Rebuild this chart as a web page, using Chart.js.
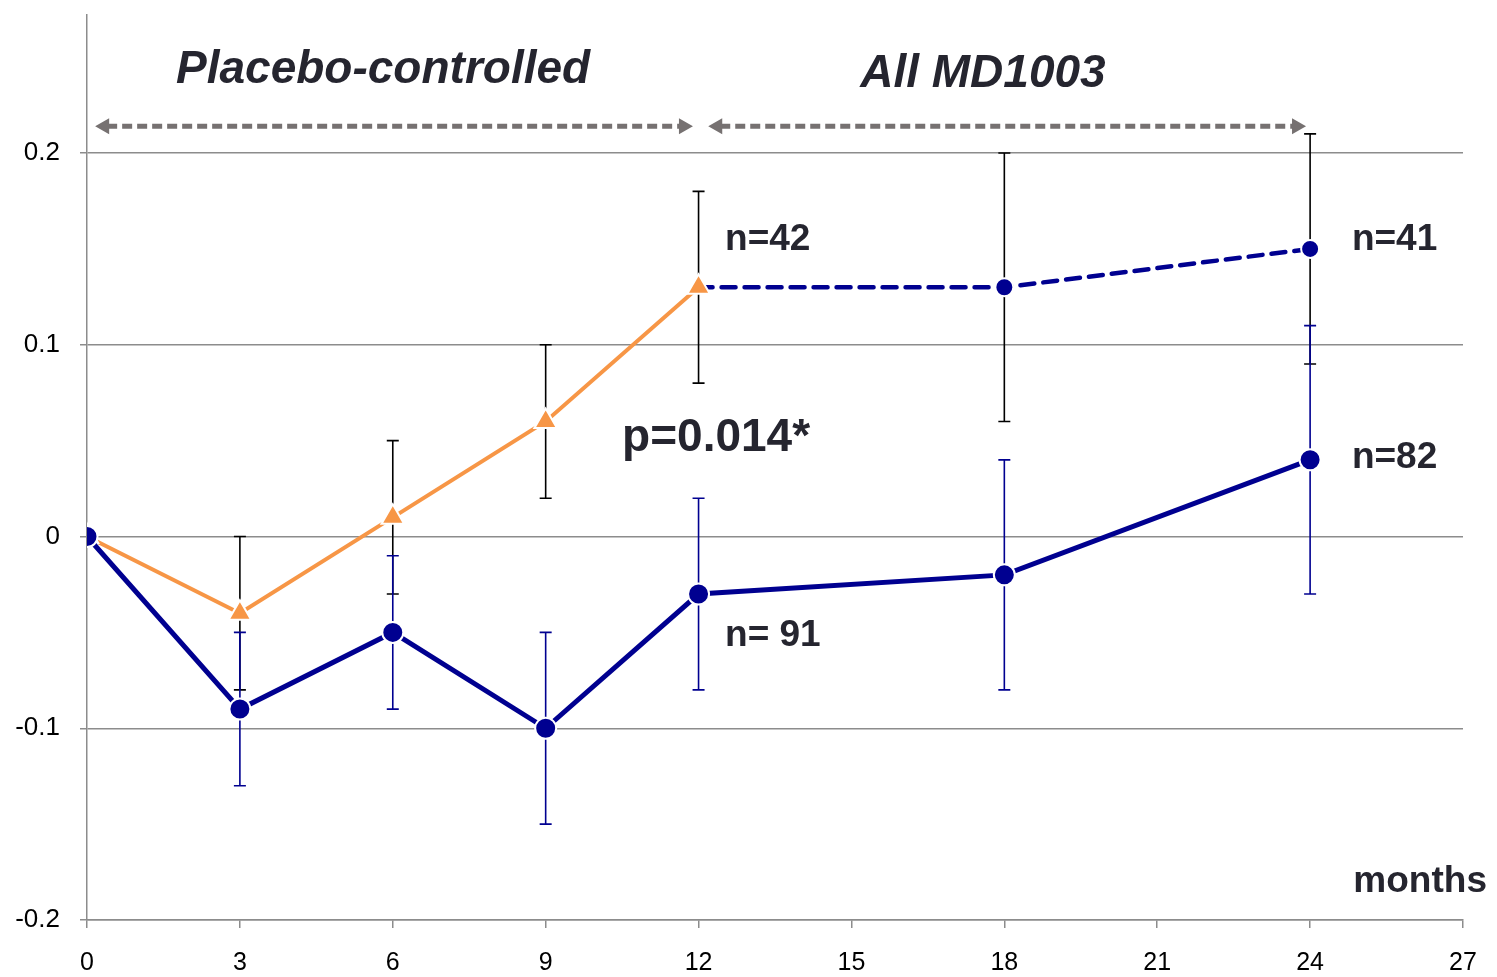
<!DOCTYPE html>
<html>
<head>
<meta charset="utf-8">
<script src="https://cdn.jsdelivr.net/npm/chart.js@4"></script>
<style>
  html, body { margin: 0; padding: 0; background: #ffffff; }
  #wrap { width: 1497px; height: 977px; }
</style>
</head>
<body>
<div id="wrap"><canvas id="chart" width="1497" height="977"></canvas></div>
<script>
// Data (months, change from baseline)
const xTicks = [0, 3, 6, 9, 12, 15, 18, 21, 24, 27];
const yTicks = [-0.2, -0.1, 0, 0.1, 0.2];

const mdMonths = [0, 3, 6, 9, 12, 18, 24];
const mdValues = [0, -0.09, -0.05, -0.10, -0.03, -0.02, 0.04];
const mdErr = [0, 0.04, 0.04, 0.05, 0.05, 0.06, 0.07];

const placeboMonths = [0, 3, 6, 9, 12];
const placeboValues = [0, -0.04, 0.01, 0.06, 0.13];
const placeboErr = [0, 0.04, 0.04, 0.04, 0.05];

const switchMonths = [12, 18, 24];
const switchValues = [0.13, 0.13, 0.15];
const switchErr = [0, 0.07, 0.06];

// Text labels placed in data units
const labels = [
  { text: 'n=42', x: 12.52, y: 0.155, size: 37, align: 'left' },
  { text: 'n=41', x: 24.82, y: 0.155, size: 37, align: 'left' },
  { text: 'n=82', x: 24.82, y: 0.041, size: 37, align: 'left' },
  { text: 'n= 91', x: 12.52, y: -0.052, size: 37, align: 'left' },
  { text: 'p=0.014*', x: 10.5, y: 0.051, size: 46, align: 'left' },
  { text: 'months', x: 27.47, y: -0.180, size: 37, align: 'right' },
  { text: 'Placebo-controlled', x: 5.81, y: 0.243, size: 46, align: 'center', italic: true },
  { text: 'All MD1003', x: 17.58, y: 0.241, size: 46, align: 'center', italic: true }
];

// Period arrows [from, to] in months, at height arrowY
const arrows = [[0.16, 11.89], [12.19, 23.92]];
const arrowY = 0.214;

const NAVY = '#000090';
const ORANGE = '#f79646';
const TEXT = '#25252f';

function toPoints(xs, ys) {
  return xs.map((x, i) => ({ x: x, y: ys[i] }));
}

// error bars drawn under the markers
const errorBars = {
  id: 'errorBars',
  beforeDatasetsDraw(chart) {
    const { ctx, scales: { x, y } } = chart;
    const sets = [
      { xs: switchMonths, ys: switchValues, err: switchErr, color: '#000000' },
      { xs: placeboMonths, ys: placeboValues, err: placeboErr, color: '#000000' },
      { xs: mdMonths, ys: mdValues, err: mdErr, color: NAVY }
    ];
    ctx.save();
    ctx.lineWidth = 1.6;
    sets.forEach(s => {
      ctx.strokeStyle = s.color;
      s.xs.forEach((m, i) => {
        if (!s.err[i]) return;
        const px = x.getPixelForValue(m);
        const top = y.getPixelForValue(s.ys[i] + s.err[i]);
        const bot = y.getPixelForValue(s.ys[i] - s.err[i]);
        ctx.beginPath();
        ctx.moveTo(px, top); ctx.lineTo(px, bot);
        ctx.moveTo(px - 6, top); ctx.lineTo(px + 6, top);
        ctx.moveTo(px - 6, bot); ctx.lineTo(px + 6, bot);
        ctx.stroke();
      });
    });
    ctx.restore();
  }
};

const annotations = {
  id: 'annotations',
  afterDraw(chart) {
    const { ctx, scales: { x, y } } = chart;
    ctx.save();
    // dashed arrows
    const ay = y.getPixelForValue(arrowY);
    ctx.strokeStyle = '#767171';
    ctx.fillStyle = '#767171';
    ctx.lineWidth = 5;
    arrows.forEach(([a, b]) => {
      const x1 = x.getPixelForValue(a), x2 = x.getPixelForValue(b);
      ctx.setLineDash([10, 5]);
      ctx.beginPath();
      ctx.moveTo(x1 + 12, ay); ctx.lineTo(x2 - 12, ay);
      ctx.stroke();
      ctx.setLineDash([]);
      ctx.beginPath();
      ctx.moveTo(x1, ay); ctx.lineTo(x1 + 14, ay - 8); ctx.lineTo(x1 + 14, ay + 8); ctx.closePath();
      ctx.moveTo(x2, ay); ctx.lineTo(x2 - 14, ay - 8); ctx.lineTo(x2 - 14, ay + 8); ctx.closePath();
      ctx.fill();
    });
    // texts
    ctx.fillStyle = TEXT;
    ctx.textBaseline = 'middle';
    labels.forEach(l => {
      ctx.font = (l.italic ? 'italic ' : '') + 'bold ' + l.size + 'px "Liberation Sans", Arial, sans-serif';
      ctx.textAlign = l.align;
      ctx.fillText(l.text, x.getPixelForValue(l.x), y.getPixelForValue(l.y));
    });
    ctx.restore();
  }
};

const ctx = document.getElementById('chart').getContext('2d');
new Chart(ctx, {
  type: 'line',
  data: {
    datasets: [
      {
        label: 'MD1003',
        data: toPoints(mdMonths, mdValues),
        borderColor: NAVY,
        backgroundColor: NAVY,
        borderWidth: 5,
        pointRadius: 10.5,
        pointBorderColor: '#ffffff',
        pointBorderWidth: 2,
        order: 1
      },
      {
        label: 'Placebo',
        data: toPoints(placeboMonths, placeboValues),
        borderColor: ORANGE,
        backgroundColor: ORANGE,
        borderWidth: 4,
        pointStyle: 'triangle',
        pointRadius: 13,
        pointBorderColor: '#ffffff',
        pointBorderWidth: 2,
        order: 2
      },
      {
        label: 'Placebo to MD1003',
        data: toPoints(switchMonths, switchValues),
        borderColor: NAVY,
        backgroundColor: NAVY,
        borderWidth: 4.5,
        borderDash: [14, 9],
        borderCapStyle: 'round',
        pointRadius: [0, 9, 9],
        pointBorderColor: '#ffffff',
        pointBorderWidth: 2,
        order: 3
      }
    ]
  },
  options: {
    responsive: false,
    animation: false,
    layout: { padding: { top: 5, right: 34, left: 0, bottom: 0 } },
    plugins: {
      legend: { display: false },
      tooltip: { enabled: false }
    },
    scales: {
      x: {
        type: 'linear',
        min: 0,
        max: 27,
        afterBuildTicks: s => { s.ticks = xTicks.map(v => ({ value: v })); },
        afterFit: s => { s.height = 57; s.paddingLeft = 0; s.paddingRight = 0; },
        border: { color: '#8c8c8c', width: 1.5 },
        grid: { drawOnChartArea: false, tickLength: 8, color: '#8c8c8c', lineWidth: 1.5 },
        ticks: {
          color: '#000000',
          padding: 20,
          maxRotation: 0,
          font: { family: '"Liberation Sans", Arial, sans-serif', size: 25 }
        }
      },
      y: {
        min: -0.2,
        max: 0.272,
        afterBuildTicks: s => { s.ticks = yTicks.map(v => ({ value: v })); },
        afterFit: s => { s.width = 87; s.paddingTop = 0; s.paddingBottom = 0; },
        border: { color: '#8c8c8c', width: 1.5 },
        grid: { color: '#8c8c8c', lineWidth: 1.5, tickLength: 7 },
        ticks: {
          color: '#000000',
          padding: 20,
          callback: v => String(Number(v.toFixed(1))),
          font: { family: '"Liberation Sans", Arial, sans-serif', size: 26 }
        }
      }
    }
  },
  plugins: [errorBars, annotations]
});
</script>
</body>
</html>
